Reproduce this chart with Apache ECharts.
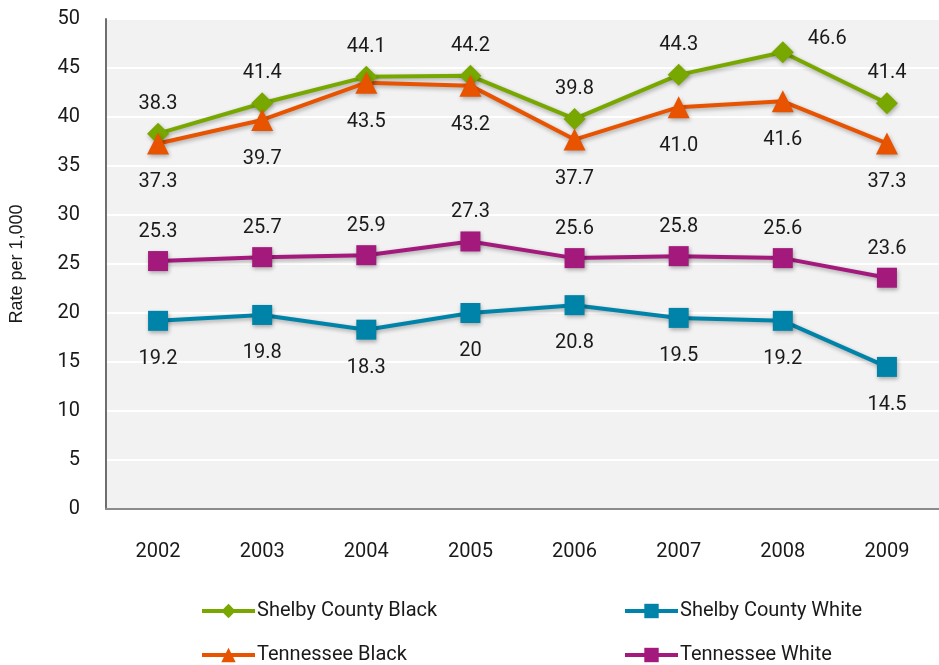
<!DOCTYPE html>
<html>
<head>
<meta charset="utf-8">
<script src="https://cdn.jsdelivr.net/npm/echarts@6/dist/echarts.min.js"></script>
<style>
  html, body { margin: 0; padding: 0; background: #fff; }
  #chart { width: 939px; height: 665px; }
</style>
</head>
<body>
<div id="chart"></div>
<script>
// years on the x axis
var years = ['2002', '2003', '2004', '2005', '2006', '2007', '2008', '2009'];
// rates per 1,000
var shelbyBlack = [38.3, 41.4, 44.1, 44.2, 39.8, 44.3, 46.6, 41.4];
var tnBlack = [37.3, 39.7, 43.5, 43.2, 37.7, 41.0, 41.6, 37.3];
var tnWhite = [25.3, 25.7, 25.9, 27.3, 25.6, 25.8, 25.6, 23.6];
var shelbyWhite = [19.2, 19.8, 18.3, 20, 20.8, 19.5, 19.2, 14.5];
var yTicks = [0, 5, 10, 15, 20, 25, 30, 35, 40, 45, 50];

var font = 'Roboto, "Noto Sans", sans-serif';
var shadow = { shadowColor: 'rgba(0,0,0,0.3)', shadowBlur: 4, shadowOffsetX: 1, shadowOffsetY: 2 };

function lineSeries(name, data, color, symbol, size, pos, fixed) {
    return {
        name: name,
        type: 'line',
        data: data,
        symbol: symbol,
        symbolSize: size,
        lineStyle: Object.assign({ color: color, width: 4 }, shadow),
        itemStyle: Object.assign({ color: color }, shadow),
        label: {
            show: true,
            position: pos,
            distance: pos === 'top' ? 9 : 18,
            color: '#1a1a1a',
            fontSize: 20,
            fontFamily: font,
            formatter: function (p) {
                return fixed ? p.value.toFixed(1) : String(p.value);
            }
        },
        z: 3
    };
}

var sbSeries = lineSeries('Shelby County Black', shelbyBlack, '#78A800', 'diamond', 22, 'top', false);
// the 2008 peak label sits up and to the right
sbSeries.data = shelbyBlack.map(function (v, i) {
    if (i === 6) return { value: v, label: { position: [36, -12] } };
    return v;
});

function legendCol(left, names) {
    return {
        left: left,
        top: 596,
        height: 120,
        orient: 'vertical',
        itemWidth: 53,
        itemHeight: 18,
        itemGap: 24,
        data: names,
        lineStyle: { width: 4 },
        textStyle: { fontSize: 20, color: '#1a1a1a', fontFamily: font, padding: [0, 0, 0, -3] }
    };
}

var myChart = echarts.init(document.getElementById('chart'));
var option = {
    animation: false,
    backgroundColor: '#ffffff',
    grid: {
        left: 100,
        top: 19,
        right: -14,
        height: 490,
        show: true,
        backgroundColor: '#f2f2f2',
        borderWidth: 0
    },
    legend: [
        legendCol(195, ['Shelby County Black', 'Tennessee Black']),
        legendCol(618, ['Shelby County White', 'Tennessee White'])
    ],
    xAxis: {
        type: 'category',
        data: years,
        boundaryGap: true,
        axisLine: { show: true, lineStyle: { color: '#8c8c8c', width: 2 } },
        axisTick: { show: false },
        axisLabel: { fontSize: 20, color: '#1a1a1a', fontFamily: font, margin: 33 }
    },
    yAxis: {
        type: 'value',
        min: 0,
        max: 50,
        interval: 5,
        name: 'Rate per 1,000',
        nameLocation: 'middle',
        nameGap: 80,
        nameTextStyle: { fontSize: 18, color: '#1a1a1a', fontFamily: '"Liberation Sans", Arial, sans-serif' },
        axisLine: { show: true, lineStyle: { color: '#6e6e6e', width: 2 } },
        axisTick: { show: false },
        splitLine: { show: true, lineStyle: { color: '#ffffff', width: 2 } },
        axisLabel: {
            fontSize: 20, color: '#1a1a1a', fontFamily: font, margin: 26,
            padding: [6, 0, 0, 0],
            formatter: function (v) { return yTicks.indexOf(v) >= 0 ? String(v) : ''; }
        }
    },
    series: [
        sbSeries,
        lineSeries('Shelby County White', shelbyWhite, '#0083A9', 'rect', 20, 'bottom', false),
        lineSeries('Tennessee Black', tnBlack, '#E85300', 'triangle', 22, 'bottom', true),
        lineSeries('Tennessee White', tnWhite, '#A3197C', 'rect', 20, 'top', false)
    ]
};
myChart.setOption(option);
</script>
</body>
</html>
